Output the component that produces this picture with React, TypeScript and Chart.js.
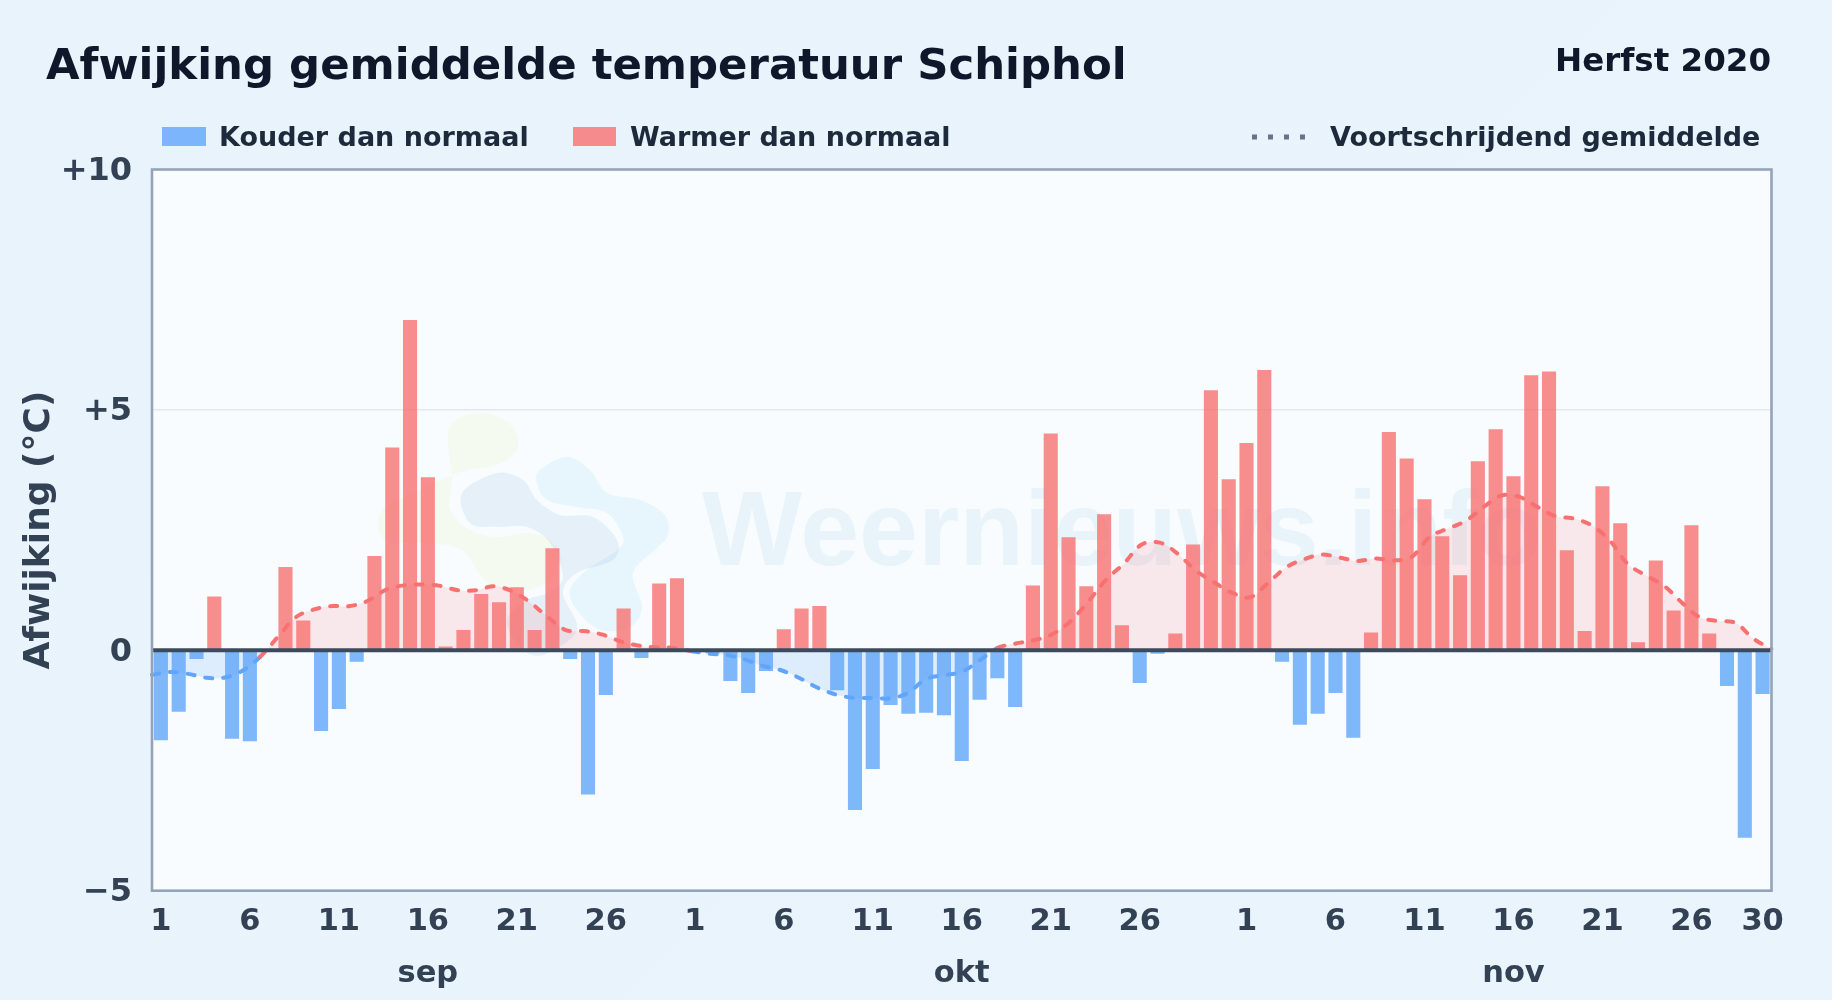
import React, { useEffect, useRef } from "react";
import { Chart, registerables } from "chart.js";

Chart.register(...registerables);

const FONT = '"DejaVu Sans"';

const dayLabels = [
  ...Array.from({ length: 30 }, (_, i) => String(i + 1)),
  ...Array.from({ length: 31 }, (_, i) => String(i + 1)),
  ...Array.from({ length: 30 }, (_, i) => String(i + 1)),
];

const monthTicks: Record<number, string> = { 15: "sep", 45: "okt", 76: "nov" };

const deviationSep = [
  -1.87, -1.28, -0.18, 1.12, -1.84, -1.89, 0, 1.73, 0.62, -1.68,
  -1.22, -0.24, 1.96, 4.22, 6.87, 3.6, 0.08, 0.42, 1.17, 1.0,
  1.31, 0.42, 2.12, -0.18, -3.0, -0.93, 0.87, -0.16, 1.39, 1.5,
];
const deviationOkt = [
  0, -0.06, -0.64, -0.89, -0.43, 0.44, 0.87, 0.92, -0.83, -3.32,
  -2.47, -1.14, -1.32, -1.3, -1.35, -2.3, -1.03, -0.58, -1.18, 1.35,
  4.51, 2.35, 1.33, 2.83, 0.52, -0.68, -0.07, 0.35, 2.2, 5.41, 3.56,
];
const deviationNov = [
  4.31, 5.83, -0.24, -1.55, -1.32, -0.89, -1.82, 0.37, 4.54, 3.99,
  3.14, 2.37, 1.56, 3.93, 4.6, 3.62, 5.72, 5.8, 2.08, 0.4,
  3.41, 2.64, 0.17, 1.87, 0.83, 2.6, 0.35, -0.74, -3.9, -0.91,
];
const deviation = [...deviationSep, ...deviationOkt, ...deviationNov];
const colderValues = deviation.map((v) => (v < 0 ? v : null));
const warmerValues = deviation.map((v) => (v >= 0 ? v : null));

const movingAverage = [
  -0.51, -0.45, -0.49, -0.57, -0.57, -0.43, -0.14, 0.28, 0.69, 0.85,
  0.92, 0.92, 1.03, 1.26, 1.35, 1.37, 1.34, 1.25, 1.25, 1.33,
  1.23, 1.0, 0.69, 0.42, 0.4, 0.33, 0.19, 0.1, 0.06, 0.05,
  -0.02, -0.07, -0.1, -0.2, -0.33, -0.42, -0.58, -0.78, -0.92, -0.99,
  -0.99, -1.0, -0.89, -0.6, -0.52, -0.45, -0.21, 0.05, 0.14, 0.21,
  0.33, 0.59, 1.0, 1.46, 1.8, 2.2, 2.24, 2.01, 1.66, 1.42,
  1.2, 1.1, 1.39, 1.72, 1.89, 1.99, 1.93, 1.86, 1.91, 1.87,
  1.94, 2.36, 2.53, 2.69, 2.98, 3.22, 3.19, 2.98, 2.79, 2.74,
  2.6, 2.29, 1.8, 1.56, 1.35, 1.0, 0.69, 0.61, 0.57, 0.24, 0.03,
];

const BLUE = "rgba(96,165,250,0.8)";
const RED = "rgba(248,113,113,0.8)";

const blobs: { color: string; points: [number, number][] }[] = [
  {
    color: "rgba(218,232,105,0.1)",
    points: [
      [450, 427], [483, 413], [513, 427], [517, 450], [497, 465], [467, 470],
      [440, 480], [420, 490], [382, 510], [385, 540], [430, 543], [462, 550],
      [480, 575], [497, 588], [527, 590], [550, 580], [562, 560], [550, 540],
      [527, 533], [497, 537], [470, 530], [450, 510], [452, 480],
    ],
  },
  {
    color: "rgba(81,135,197,0.1)",
    points: [
      [462, 493], [497, 473], [523, 480], [537, 500], [560, 515], [593, 517],
      [617, 540], [613, 560], [577, 573], [563, 593], [577, 630], [543, 655],
      [520, 647], [507, 620], [527, 600], [547, 593], [563, 577], [550, 543],
      [527, 527], [497, 527], [470, 523],
    ],
  },
  {
    color: "rgba(88,182,235,0.1)",
    points: [
      [540, 470], [567, 457], [590, 470], [607, 493], [640, 500], [665, 515],
      [668, 535], [657, 548], [633, 573], [642, 607], [630, 627], [600, 630],
      [577, 610], [570, 590], [587, 570], [617, 550], [623, 537], [607, 513],
      [577, 507], [547, 500], [537, 483],
    ],
  },
];

function smoothBlob(ctx: CanvasRenderingContext2D, pts: [number, number][]) {
  const n = pts.length;
  ctx.beginPath();
  ctx.moveTo(pts[0][0], pts[0][1]);
  for (let i = 0; i < n; i++) {
    const p0 = pts[(i - 1 + n) % n];
    const p1 = pts[i];
    const p2 = pts[(i + 1) % n];
    const p3 = pts[(i + 2) % n];
    ctx.bezierCurveTo(
      p1[0] + (p2[0] - p0[0]) / 6,
      p1[1] + (p2[1] - p0[1]) / 6,
      p2[0] - (p3[0] - p1[0]) / 6,
      p2[1] - (p3[1] - p1[1]) / 6,
      p2[0],
      p2[1]
    );
  }
  ctx.closePath();
}

const backdropPlugin = {
  id: "backdrop",
  beforeDraw(chart: any) {
    const { ctx, chartArea: a } = chart;
    ctx.save();
    ctx.fillStyle = "#f8fcff";
    ctx.fillRect(a.left, a.top, a.right - a.left, a.bottom - a.top);
    ctx.restore();
  },
  beforeDatasetsDraw(chart: any) {
    const { ctx } = chart;
    ctx.save();
    for (const b of blobs) {
      smoothBlob(ctx, b.points);
      ctx.fillStyle = b.color;
      ctx.fill();
    }
    ctx.font = `700 106px "Liberation Sans"`;
    ctx.textAlign = "left";
    ctx.textBaseline = "alphabetic";
    ctx.fillStyle = "rgba(80,150,205,0.09)";
    ctx.fillText("Weernieuws.info", 702, 565);
    ctx.restore();
  },
  afterDatasetsDraw(chart: any) {
    const { ctx, chartArea: a, scales } = chart;
    const y0 = scales.y.getPixelForValue(0);
    ctx.save();
    ctx.strokeStyle = "#3c4a5e";
    ctx.lineWidth = 4;
    ctx.beginPath();
    ctx.moveTo(a.left, y0);
    ctx.lineTo(a.right, y0);
    ctx.stroke();
    ctx.strokeStyle = "#94a3b8";
    ctx.lineWidth = 2.6;
    ctx.strokeRect(a.left, a.top, a.right - a.left, a.bottom - a.top);
    ctx.restore();
  },
};

const headerPlugin = {
  id: "header",
  afterDraw(chart: any) {
    const { ctx } = chart;
    ctx.save();
    ctx.textBaseline = "alphabetic";
    ctx.textAlign = "left";
    ctx.fillStyle = "#0f172a";
    ctx.font = `700 43.4px ${FONT}`;
    ctx.fillText("Afwijking gemiddelde temperatuur Schiphol", 46, 79);
    ctx.textAlign = "right";
    ctx.font = `700 32.5px ${FONT}`;
    ctx.fillText("Herfst 2020", 1771, 71);

    ctx.textAlign = "left";
    ctx.font = `700 27px ${FONT}`;
    ctx.fillStyle = BLUE;
    ctx.fillRect(162, 127, 44, 19);
    ctx.fillStyle = RED;
    ctx.fillRect(573, 127, 43, 19);
    ctx.fillStyle = "#1e293b";
    ctx.fillText("Kouder dan normaal", 219, 146);
    ctx.fillText("Warmer dan normaal", 630, 146);
    ctx.fillText("Voortschrijdend gemiddelde", 1330, 146);

    ctx.strokeStyle = "#64748b";
    ctx.lineWidth = 5;
    ctx.setLineDash([5, 11]);
    ctx.beginPath();
    ctx.moveTo(1252, 137);
    ctx.lineTo(1308, 137);
    ctx.stroke();
    ctx.restore();
  },
};

export default function App() {
  const ref = useRef<HTMLCanvasElement>(null);

  useEffect(() => {
    const xTickFont = { family: FONT, size: 30.5, weight: "bold" as const };
    const yTickFont = { family: FONT, size: 32, weight: "bold" as const };
    const chart = new Chart(ref.current!, {
      type: "bar",
      data: {
        labels: dayLabels,
        datasets: [
          {
            type: "line",
            label: "Voortschrijdend gemiddelde",
            data: movingAverage,
            xAxisID: "xLine",
            order: 0,
            borderWidth: 4,
            borderColor: "#f87171",
            borderDash: [7, 11],
            borderCapStyle: "round",
            tension: 0.35,
            pointRadius: 0,
            fill: {
              target: "origin",
              above: "rgba(248,113,113,0.14)",
              below: "rgba(96,165,250,0.17)",
            },
            segment: {
              borderColor: (c: any) =>
                c.p0.parsed.y + c.p1.parsed.y < 0 ? "#60a5fa" : "#f87171",
            },
          } as any,
          {
            label: "Kouder dan normaal",
            data: colderValues,
            xAxisID: "x",
            order: 1,
            backgroundColor: BLUE,
            grouped: false,
            barPercentage: 0.9,
            categoryPercentage: 0.88,
          } as any,
          {
            label: "Warmer dan normaal",
            data: warmerValues,
            xAxisID: "x",
            order: 1,
            backgroundColor: RED,
            grouped: false,
            barPercentage: 0.9,
            categoryPercentage: 0.88,
          } as any,
        ],
      },
      options: {
        responsive: false,
        animation: false,
        events: [],
        layout: { padding: { top: 169.5, right: 60.5, bottom: 0, left: 0 } },
        plugins: { legend: { display: false }, title: { display: false }, tooltip: { enabled: false } },
        scales: {
          x: {
            type: "category",
            position: "bottom",
            offset: true,
            grid: { display: false, drawTicks: false },
            border: { display: false },
            ticks: {
              autoSkip: false,
              maxRotation: 0,
              minRotation: 0,
              padding: 13,
              color: "#334155",
              font: xTickFont,
              callback: (_v: any, i: number) => {
                const d = Number(dayLabels[i]);
                return ((d - 1) % 5 === 0 && d <= 26) || i === dayLabels.length - 1 ? String(d) : "";
              },
            },
            afterFit: (s: any) => {
              s.height = 60;
            },
          },
          xMonth: {
            type: "category",
            position: "bottom",
            offset: true,
            grid: { display: false, drawTicks: false },
            border: { display: false },
            ticks: {
              autoSkip: false,
              maxRotation: 0,
              minRotation: 0,
              padding: 5,
              color: "#334155",
              font: xTickFont,
              callback: (_v: any, i: number) => monthTicks[i] ?? "",
            },
            afterFit: (s: any) => {
              s.height = 49.3;
            },
          },
          xLine: {
            type: "category",
            display: false,
            offset: false,
          },
          y: {
            min: -5,
            max: 10,
            position: "left",
            border: { display: false },
            grid: {
              drawTicks: false,
              lineWidth: 1.5,
              color: (c: any) => (c.tick.value === 5 ? "#e2e8f0" : "transparent"),
            },
            ticks: {
              stepSize: 5,
              padding: 20,
              labelOffset: 2,
              color: "#334155",
              font: yTickFont,
              callback: (v: any) => (v > 0 ? `+${v}` : v < 0 ? `\u2212${Math.abs(v)}` : "0"),
            },
            title: {
              display: true,
              text: "Afwijking (\u00b0C)",
              color: "#334155",
              font: { family: FONT, size: 36, weight: "bold" },
              padding: { top: 18, bottom: 0 },
            },
            afterFit: (s: any) => {
              s.width = 152;
            },
          },
        },
      } as any,
      plugins: [backdropPlugin, headerPlugin],
    });
    return () => chart.destroy();
  }, []);

  return (
    <div
      style={{
        position: "fixed",
        inset: 0,
        background: "linear-gradient(135deg, #e8f3fc 0%, #eaf4fc 100%)",
      }}
    >
      <canvas ref={ref} width={1832} height={1000} style={{ display: "block" }} />
    </div>
  );
}
